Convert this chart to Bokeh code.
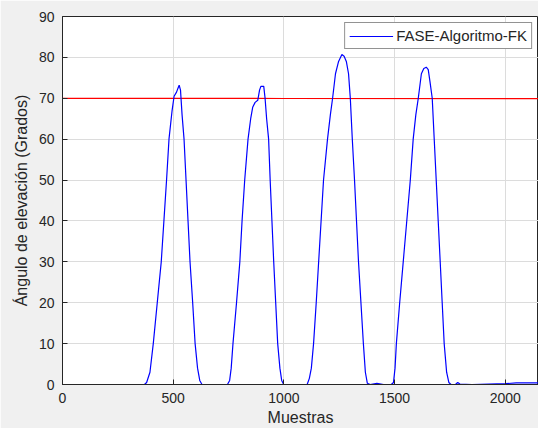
from bokeh.plotting import figure
from bokeh.models import Range1d, FixedTicker, Legend, LegendItem
from bokeh.embed import file_html
from bokeh.resources import INLINE

# Blue series: FASE-Algoritmo-FK (sample index, elevation angle in degrees)
muestras = [0, 370, 380, 395, 410, 428, 446, 458, 470, 481, 495, 504, 515, 522, 527, 533,
            540, 549, 558, 567, 576, 588, 599, 610, 620, 630,
            745, 755, 762, 770, 786, 801, 811, 823, 838, 850, 859, 870, 882, 890, 896,
            909, 915, 922, 931, 938, 946, 954, 963, 972, 982, 990, 999,
            1105, 1115, 1124, 1134, 1146, 1157, 1168, 1179, 1197, 1210, 1220, 1233,
            1247, 1262, 1272, 1282, 1292, 1300, 1309, 1319, 1328, 1337, 1348, 1359,
            1368, 1377, 1390, 1420, 1450, 1485,
            1495, 1502, 1508, 1523, 1539, 1555, 1571, 1584, 1596, 1607, 1621, 1632,
            1643, 1652, 1660, 1670, 1679, 1688, 1697, 1706, 1715, 1724, 1735, 1745,
            1755, 1775, 1785, 1795, 1850, 2000, 2050, 2150]
angulo = [0, 0, 0.5, 3, 10, 20, 30, 40, 50, 60, 67, 70.5, 71.5, 72.5, 73.2, 72,
          66, 60, 50, 40, 30, 20, 10, 4, 1, 0,
          0, 1, 4, 10, 20, 30, 40, 50, 60, 65, 67.8, 69, 69.5, 72, 72.9,
          72.9, 70, 65, 60, 50, 40, 30, 20, 10, 4, 1, 0,
          0, 1.5, 4, 10, 20, 30, 40, 50, 60, 66, 70, 76,
          79, 80.7, 80.3, 79, 76, 70, 60, 50, 40, 30, 20, 10,
          3, 0.3, 0, 0.3, 0, 0,
          0.5, 4, 10, 20, 30, 40, 50, 60, 66, 70, 76, 77.3,
          77.6, 77, 74, 70, 60, 50, 40, 30, 20, 10, 3, 0.5,
          0, 0, 0.5, 0.1, 0, 0.2, 0.4, 0.4]

# Red reference line
ref_x = [0, 1000, 2150]
ref_y = [70, 69.95, 69.9]

x_ticks = [0, 500, 1000, 1500, 2000]
y_ticks = [0, 10, 20, 30, 40, 50, 60, 70, 80, 90]

p = figure(width=538, height=428, output_backend="svg", toolbar_location=None,
           x_range=Range1d(0, 2150), y_range=Range1d(0, 90),
           min_border_left=62, min_border_top=16, min_border_bottom=43, min_border_right=0)

p.background_fill_color = "white"
p.border_fill_color = "#f0f0f0"
p.outline_line_color = "#262626"
p.outline_line_width = 1

for ax in (p.xaxis[0], p.yaxis[0]):
    ax.axis_line_color = "#262626"
    ax.major_tick_line_color = "#262626"
    ax.major_tick_in = 5
    ax.major_tick_out = 0
    ax.minor_tick_line_color = None
    ax.major_label_text_font = "Liberation Sans"
    ax.major_label_text_font_size = "14px"
    ax.major_label_text_color = "#262626"
    ax.axis_label_text_font = "Liberation Sans"
    ax.axis_label_text_font_size = "16px"
    ax.axis_label_text_font_style = "normal"
    ax.axis_label_text_color = "#262626"

p.xaxis.ticker = FixedTicker(ticks=x_ticks)
p.yaxis.ticker = FixedTicker(ticks=y_ticks)
p.xaxis.axis_label = "Muestras"
p.yaxis.axis_label = "Ángulo de elevación (Grados)"
p.xaxis.major_label_standoff = 8
p.yaxis.major_label_standoff = 8
p.xaxis.axis_label_standoff = 3
p.yaxis.axis_label_standoff = 6

p.xgrid.ticker = FixedTicker(ticks=x_ticks)
p.ygrid.ticker = FixedTicker(ticks=y_ticks)
p.grid.grid_line_color = "#dcdcdc"
p.grid.grid_line_width = 1

r_red = p.line(ref_x, ref_y, line_color="#ff0000", line_width=1.2)
r_blue = p.line(muestras, angulo, line_color="#0000ff", line_width=1.2)

legend = Legend(items=[LegendItem(label="FASE-Algoritmo-FK", renderers=[r_blue])],
                location="top_right")
legend.border_line_color = "#262626"
legend.border_line_width = 1
legend.label_text_font = "Liberation Sans"
legend.label_text_font_size = "15px"
legend.label_text_color = "#262626"
legend.glyph_width = 44
legend.glyph_height = 14
legend.padding = 4
legend.margin = 6
legend.spacing = 0
legend.label_standoff = 3
legend.background_fill_alpha = 1
p.add_layout(legend)

open("out.html", "w").write(file_html(p, INLINE))
